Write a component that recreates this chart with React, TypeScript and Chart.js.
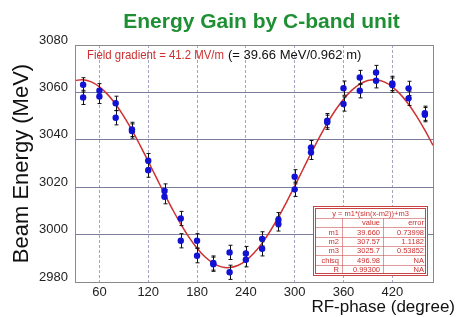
import React, { useEffect, useRef } from 'react';
import { Chart, registerables } from 'chart.js';

Chart.register(...registerables);

const FONT = '"Liberation Sans", Arial, Helvetica, sans-serif';

const TITLE = 'Energy Gain by C-band unit';
const Y_TITLE = 'Beam Energy (MeV)';
const X_TITLE = 'RF-phase (degree)';
const NOTE_RED = 'Field gradient = 41.2 MV/m';
const NOTE_BLACK = '(= 39.66 MeV/0.962 m)';

const X_MIN = 30;
const X_MAX = 470;
const Y_MIN = 2980;
const Y_MAX = 3080;
const X_TICKS = [60, 120, 180, 240, 300, 360, 420];
const Y_TICKS = [2980, 3000, 3020, 3040, 3060, 3080];

// measured points (two per phase)
const PHASES = [
  40, 40, 60, 60, 80, 80, 100, 100, 120, 120, 140, 140, 160, 160, 180, 180,
  200, 200, 220, 220, 240, 240, 260, 260, 280, 280, 300, 300, 320, 320,
  340, 340, 360, 360, 380, 380, 400, 400, 420, 420, 440, 440, 460, 460,
];
const ENERGY = [
  3063.2, 3057.9, 3060.7, 3058.3, 3055.4, 3049.3, 3044.4, 3043.7, 3031.2, 3027.2,
  3018.4, 3016.0, 3006.8, 2997.4, 2997.4, 2991.1, 2988.0, 2987.5, 2992.5, 2984.1,
  2992.0, 2989.4, 2998.2, 2994.0, 3006.3, 3004.5, 3024.4, 3019.1, 3036.7, 3034.7,
  3048.1, 3047.4, 3061.8, 3055.1, 3066.3, 3060.7, 3068.4, 3064.9, 3063.8, 3063.1,
  3061.7, 3057.5, 3051.2, 3050.6,
];
const ERRORS = [
  3, 3, 3, 3, 3, 3, 3, 3, 3, 3, 3, 3, 3, 3, 3, 3, 3, 3, 3, 3, 3, 3,
  3, 3, 3, 3, 3, 3, 3, 3, 3, 3, 3, 3, 3, 3, 3, 3, 3, 3, 3, 3, 3, 3,
];

// fitted curve samples
const FIT_X = [
  30, 40, 50, 60, 70, 80, 90, 100, 110, 120, 130, 140, 150, 160, 170, 180, 190,
  200, 210, 220, 230, 240, 250, 260, 270, 280, 290, 300, 310, 320, 330, 340, 350,
  360, 370, 380, 390, 400, 410, 420, 430, 440, 450, 460, 470,
];
const FIT_Y = [
  3065.01, 3065.32, 3064.43, 3062.36, 3059.17, 3054.98, 3049.88, 3044.06, 3037.67,
  3030.92, 3024.02, 3017.16, 3010.57, 3004.43, 2998.95, 2994.27, 2990.54, 2987.89,
  2986.39, 2986.08, 2986.97, 2989.04, 2992.23, 2996.42, 3001.52, 3007.34, 3013.73,
  3020.48, 3027.38, 3034.24, 3040.83, 3046.97, 3052.45, 3057.13, 3060.86, 3063.51,
  3065.01, 3065.32, 3064.43, 3062.36, 3059.17, 3054.98, 3049.88, 3044.06, 3037.67,
];

// fit result table
const TABLE_HEADER = 'y = m1*(sin(x-m2))+m3';
const TABLE_COLS = ['value', 'error'];
const TABLE_NAMES = ['m1', 'm2', 'm3', 'chisq', 'R'];
const TABLE_VALUES = ['39.660', '307.57', '3025.7', '496.98', '0.99300'];
const TABLE_ERRORS = ['0.73998', '1.1182', '0.53852', 'NA', 'NA'];

const RED = '#cc3030';
const BLUE = '#1212d4';
const GREEN = '#1f8f34';

const decorPlugin = {
  id: 'decor',
  afterDatasetDraw(chart: any, args: any) {
    if (args.index !== 1) return;
    const { ctx } = chart;
    const xs = chart.scales.x;
    const ys = chart.scales.y;
    ctx.save();
    ctx.strokeStyle = '#111';
    ctx.lineWidth = 1;
    PHASES.forEach((p, i) => {
      const x = Math.round(xs.getPixelForValue(p)) + 0.5;
      const y1 = ys.getPixelForValue(ENERGY[i] + ERRORS[i]);
      const y2 = ys.getPixelForValue(ENERGY[i] - ERRORS[i]);
      ctx.beginPath();
      ctx.moveTo(x, y1);
      ctx.lineTo(x, y2);
      ctx.moveTo(x - 2, y1);
      ctx.lineTo(x + 2, y1);
      ctx.moveTo(x - 2, y2);
      ctx.lineTo(x + 2, y2);
      ctx.stroke();
    });
    ctx.restore();
  },
  afterDraw(chart: any) {
    const { ctx, chartArea: a } = chart;
    ctx.save();
    // frame
    ctx.strokeStyle = '#8a8a8a';
    ctx.lineWidth = 1;
    ctx.strokeRect(Math.round(a.left) + 0.5, Math.round(a.top) + 0.5,
      Math.round(a.right - a.left), Math.round(a.bottom - a.top));

    // title
    ctx.fillStyle = GREEN;
    ctx.font = `bold 21px ${FONT}`;
    ctx.textAlign = 'center';
    ctx.textBaseline = 'alphabetic';
    ctx.fillText(TITLE, 261.5, 28);

    // note
    ctx.font = `13px ${FONT}`;
    ctx.textAlign = 'left';
    ctx.fillStyle = RED;
    ctx.fillText(NOTE_RED, 87, 59, 137);
    ctx.fillStyle = '#111';
    ctx.fillText(NOTE_BLACK, 228, 59, 136);

    // x title
    ctx.font = `17px ${FONT}`;
    ctx.textAlign = 'right';
    ctx.fillStyle = '#111';
    ctx.fillText(X_TITLE, 455, 312);

    // fit table
    const L = 313, T = 206, R = 428, B = 276;
    const cols = [L, 342, 383, R];
    const iT = T + 2, iB = B - 2, iL = L + 2, iR = R - 2;
    const headH = 10;
    const rowH = (iB - iT - headH) / 6;
    ctx.fillStyle = '#ffffff';
    ctx.fillRect(L, T, R - L, B - T);
    ctx.strokeStyle = 'rgba(200,70,70,0.55)';
    ctx.lineWidth = 1;
    ctx.beginPath();
    for (let r = 0; r < 6; r++) {
      const y = Math.round(iT + headH + r * rowH) + 0.5;
      ctx.moveTo(iL, y);
      ctx.lineTo(iR, y);
    }
    [cols[1], cols[2]].forEach((c) => {
      ctx.moveTo(c + 0.5, iT + headH);
      ctx.lineTo(c + 0.5, iB);
    });
    ctx.stroke();
    ctx.strokeStyle = '#c84444';
    ctx.strokeRect(L + 0.5, T + 0.5, R - L - 1, B - T - 1);
    ctx.strokeRect(L + 2.5, T + 2.5, R - L - 5, B - T - 5);

    ctx.fillStyle = RED;
    ctx.font = `7.5px ${FONT}`;
    ctx.textBaseline = 'middle';
    ctx.textAlign = 'center';
    ctx.fillText(TABLE_HEADER, (L + R) / 2, iT + headH / 2 + 0.5);
    ctx.textAlign = 'right';
    const rowMid = (r: number) => iT + headH + (r + 0.5) * rowH + 0.5;
    ctx.fillText(TABLE_COLS[0], cols[2] - 3, rowMid(0));
    ctx.fillText(TABLE_COLS[1], cols[3] - 4, rowMid(0));
    TABLE_NAMES.forEach((n, i) => {
      ctx.fillText(n, cols[1] - 3, rowMid(i + 1));
      ctx.fillText(TABLE_VALUES[i], cols[2] - 3, rowMid(i + 1));
      ctx.fillText(TABLE_ERRORS[i], cols[3] - 4, rowMid(i + 1));
    });
    ctx.restore();
  },
};

export default function App() {
  const canvasRef = useRef<HTMLCanvasElement | null>(null);

  useEffect(() => {
    const canvas = canvasRef.current;
    if (!canvas) return;
    Chart.defaults.font.family = FONT;
    const chart = new Chart(canvas, {
      type: 'scatter',
      data: {
        datasets: [
          {
            label: 'data',
            data: PHASES.map((p, i) => ({ x: p, y: ENERGY[i] })),
            showLine: false,
            pointRadius: 3.2,
            pointHoverRadius: 3.2,
            backgroundColor: BLUE,
            borderColor: BLUE,
            borderWidth: 0,
          },
          {
            label: 'fit',
            data: FIT_X.map((x, i) => ({ x, y: FIT_Y[i] })),
            showLine: true,
            pointRadius: 0,
            borderColor: RED,
            borderWidth: 1.5,
            tension: 0.4,
            fill: false,
          },
        ],
      },
      options: {
        animation: false,
        responsive: false,
        devicePixelRatio: 1,
        layout: { padding: { top: 45, right: 24, left: 0, bottom: 0 } },
        plugins: { legend: { display: false }, tooltip: { enabled: false }, title: { display: false } },
        scales: {
          x: {
            type: 'linear',
            min: X_MIN,
            max: X_MAX,
            afterBuildTicks: (s: any) => { s.ticks = X_TICKS.map((v) => ({ value: v })); },
            afterFit: (s: any) => { s.height = 35; },
            grid: { color: '#a4a4c4', lineWidth: 1, drawTicks: false },
            border: { display: false, dash: [3, 2] },
            ticks: { color: '#222', font: { size: 13 }, padding: 3, maxRotation: 0, callback: (v: any) => String(v) },
          },
          y: {
            type: 'linear',
            min: Y_MIN,
            max: Y_MAX,
            afterBuildTicks: (s: any) => { s.ticks = Y_TICKS.map((v) => ({ value: v })); },
            afterFit: (s: any) => { s.width = 75; },
            grid: { color: '#7c7c9c', lineWidth: 1, drawTicks: false },
            border: { display: false },
            ticks: { color: '#222', font: { size: 13 }, padding: 7, labelOffset: -5, callback: (v: any) => String(v) },
            title: {
              display: true,
              text: Y_TITLE,
              color: '#111',
              font: { size: 22 },
              padding: { top: 9, bottom: 0 },
            },
          },
        },
      },
      plugins: [decorPlugin],
    });
    return () => chart.destroy();
  }, []);

  return (
    <div style={{ position: 'fixed', left: 0, top: 0, width: 457, height: 317, background: '#fff' }}>
      <canvas ref={canvasRef} width={457} height={317} style={{ display: 'block' }} />
    </div>
  );
}
